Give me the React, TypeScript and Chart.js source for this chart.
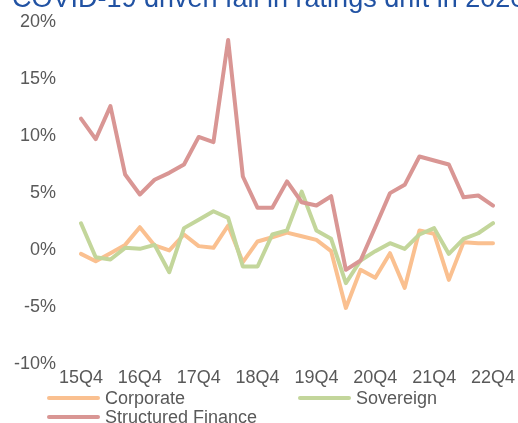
import React, { useEffect, useRef } from "react";
import { Chart, registerables } from "chart.js";

Chart.register(...registerables);

const quarters: string[] = [
  "15Q4",
  "16Q1", "16Q2", "16Q3", "16Q4",
  "17Q1", "17Q2", "17Q3", "17Q4",
  "18Q1", "18Q2", "18Q3", "18Q4",
  "19Q1", "19Q2", "19Q3", "19Q4",
  "20Q1", "20Q2", "20Q3", "20Q4",
  "21Q1", "21Q2", "21Q3", "21Q4",
  "22Q1", "22Q2", "22Q3", "22Q4",
];

const corporate: number[] = [
  -0.56, -1.2, -0.5, 0.23, 1.78, 0.18, -0.26, 1.14, 0.12, -0.03,
  1.93, -1.29, 0.53, 0.9, 1.3, 0.99, 0.67, -0.32, -5.3, -1.96,
  -2.66, -0.5, -3.54, 1.49, 1.2, -2.84, 0.47, 0.38, 0.38,
];

const sovereign: number[] = [
  2.13, -0.85, -1.05, -0.03, -0.12, 0.23, -2.17, 1.7, 2.43, 3.18,
  2.6, -1.67, -1.67, 1.14, 1.5, 4.9, 1.49, 0.76, -3.13, -1.14,
  -0.32, 0.38, -0.12, 1.14, 1.7, -0.56, 0.76, 1.25, 2.13,
];

const structuredFinance: number[] = [
  11.3, 9.5, 12.4, 6.4, 4.65, 5.94, 6.55, 7.28, 9.7, 9.24,
  18.2, 6.23, 3.48, 3.48, 5.8, 3.97, 3.68, 4.5, -1.96, -1.14,
  1.8, 4.77, 5.5, 7.98, 7.63, 7.28, 4.4, 4.56, 3.68,
];

const seriesNames: string[] = ["Corporate", "Sovereign", "Structured Finance"];
const seriesColors: string[] = ["#FAC090", "#C3D69B", "#D99694"];
const titleText = "COVID-19 driven fall in ratings drift in 2020";

const FONT = "'Liberation Sans', Arial, sans-serif";
const GREY = "#595959";

const titlePlugin = {
  id: "cutTitle",
  afterDraw(chart: any) {
    const ctx = chart.ctx;
    ctx.save();
    ctx.font = `27px ${FONT}`;
    ctx.fillStyle = "#2152A3";
    ctx.textAlign = "left";
    ctx.textBaseline = "alphabetic";
    ctx.fillText(titleText, 12, 7);
    ctx.restore();
  },
};

const legendPlugin = {
  id: "gridLegend",
  afterDraw(chart: any) {
    const ctx = chart.ctx;
    const slots = [
      [47, 398],
      [298, 398],
      [47, 417],
    ];
    ctx.save();
    ctx.font = `18px ${FONT}`;
    ctx.textAlign = "left";
    ctx.textBaseline = "middle";
    chart.data.datasets.forEach((ds: any, i: number) => {
      const [x, y] = slots[i];
      ctx.strokeStyle = ds.borderColor;
      ctx.lineWidth = 4;
      ctx.lineCap = "round";
      ctx.beginPath();
      ctx.moveTo(x + 2, y);
      ctx.lineTo(x + 51, y);
      ctx.stroke();
      ctx.fillStyle = GREY;
      ctx.fillText(ds.label, x + 58, y + 1);
    });
    ctx.restore();
  },
};

export default function App() {
  const ref = useRef<HTMLCanvasElement | null>(null);

  useEffect(() => {
    if (!ref.current) return;
    const datasets = [corporate, sovereign, structuredFinance].map((d, i) => ({
      label: seriesNames[i],
      data: d,
      borderColor: seriesColors[i],
      backgroundColor: seriesColors[i],
      borderWidth: 4,
      pointRadius: 0,
      tension: 0,
      borderJoinStyle: "round" as const,
      borderCapStyle: "round" as const,
      order: 3 - i,
    }));
    const chart = new Chart(ref.current, {
      type: "line",
      data: { labels: quarters, datasets },
      plugins: [titlePlugin, legendPlugin],
      options: {
        animation: false,
        responsive: false,
        devicePixelRatio: 1,
        layout: { padding: { top: 19.5, right: 25, bottom: 0, left: 0 } },
        plugins: {
          legend: { display: false },
          title: { display: false },
          tooltip: { enabled: false },
        },
        scales: {
          x: {
            grid: { display: false, drawTicks: false },
            border: { display: false },
            ticks: {
              autoSkip: false,
              maxRotation: 0,
              minRotation: 0,
              padding: 6,
              color: GREY,
              font: { family: FONT, size: 18 },
              callback: (_v: any, idx: number) => (idx % 4 === 0 ? quarters[idx] : ""),
            },
            afterFit: (s: any) => {
              s.height = 61.5;
              s.paddingLeft = 0;
              s.paddingRight = 0;
            },
          },
          y: {
            min: -10,
            max: 20,
            grid: { display: false, drawTicks: false },
            border: { display: false },
            ticks: {
              stepSize: 5,
              padding: 25,
              labelOffset: 2.5,
              color: GREY,
              font: { family: FONT, size: 18 },
              callback: (v: any) => `${v}%`,
            },
            afterFit: (s: any) => {
              s.width = 81;
              s.paddingTop = 10;
              s.paddingBottom = 10;
            },
          },
        },
      },
    });
    return () => chart.destroy();
  }, []);

  return (
    <div style={{ position: "fixed", left: 0, top: 0, width: 518, height: 423, background: "#fff" }}>
      <canvas ref={ref} width={518} height={423} style={{ display: "block", width: 518, height: 423 }} />
    </div>
  );
}
